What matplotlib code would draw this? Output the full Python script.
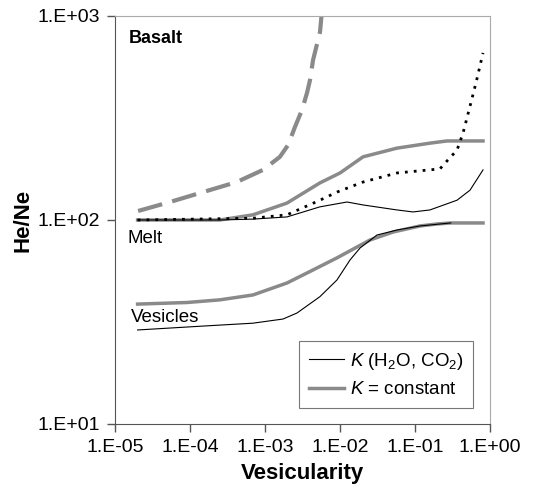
import matplotlib
matplotlib.use('Agg')
import matplotlib.pyplot as plt

plt.rcParams['font.family'] = ['Liberation Sans', 'DejaVu Sans']
plt.rcParams['mathtext.fontset'] = 'custom'
plt.rcParams['mathtext.rm'] = 'Liberation Sans'
plt.rcParams['mathtext.it'] = 'Liberation Sans:italic'

# dashed grey curve
dash_x = [2.03e-5, 5.4e-5, 1.49e-4, 4.2e-4, 9.4e-4, 1.58e-3, 2.03e-3, 2.51e-3, 3.11e-3,
          3.63e-3, 3.98e-3, 4.37e-3, 5.41e-3, 5.66e-3]
dash_y = [110.7, 122.5, 137, 153.5, 176, 204, 233, 286, 346, 420, 485, 608, 835, 1000]

# melt, K = constant
melt_c_x = [2.0e-5, 2.5e-4, 6.9e-4, 1.96e-3, 5.4e-3, 1.0e-2, 2.03e-2, 5.75e-2, 0.158, 0.267, 0.807]
melt_c_y = [100, 100, 106, 121, 152, 170, 204, 225, 238, 244, 244]

# melt, dotted
dot_x = [2.0e-5, 6.9e-4, 1.96e-3, 5.4e-3, 9.1e-3, 2.03e-2, 5.75e-2, 0.215, 0.251, 0.363,
         0.437, 0.525, 0.65, 0.807]
dot_y = [100, 102, 106, 125, 137, 153.5, 170, 178, 190, 220, 267, 346, 470, 659]

# melt, K(H2O, CO2)
melt_k_x = [2.0e-5, 2.5e-4, 6.9e-4, 1.96e-3, 5.4e-3, 1.24e-2, 2.03e-2, 5.75e-2, 9.4e-2, 0.158,
            0.363, 0.541, 0.807]
melt_k_y = [100, 100, 101, 103.5, 116, 122.5, 118.5, 112, 109.5, 112, 125, 140, 176]

# vesicles, K = constant
ves_c_x = [2.0e-5, 9.1e-5, 2.5e-4, 6.9e-4, 1.96e-3, 4.37e-3, 9.1e-3, 2.51e-2, 5.1e-2, 0.117,
           0.197, 0.3, 0.807]
ves_c_y = [38.7, 39.4, 40.6, 42.9, 49.1, 56.9, 65.2, 79.8, 87.3, 93.5, 95.6, 96.7, 96.7]

# vesicles, K(H2O, CO2)
ves_k_x = [2.0e-5, 1.49e-4, 6.9e-4, 1.74e-3, 2.67e-3, 5.4e-3, 9.1e-3, 1.36e-2, 1.85e-2, 3.11e-2,
           5.75e-2, 0.117, 0.3]
ves_k_y = [28.9, 30.2, 31.2, 32.7, 35.0, 42.1, 50.8, 63.7, 72.9, 84.4, 89.3, 93.5, 96.7]

gray = '#8a8a8a'

fig = plt.figure(figsize=(5.36, 4.90), dpi=100)
ax = fig.add_axes([0.2146, 0.1347, 0.6996, 0.8327])

ax.plot(dash_x, dash_y, color=gray, lw=3, dashes=(6, 2.5))
ax.plot(melt_c_x, melt_c_y, color=gray, lw=2.5)
ax.plot(ves_c_x, ves_c_y, color=gray, lw=2.5, label='$K$ = constant')
ax.plot(dot_x, dot_y, color='black', lw=2, dashes=(1, 2.2))
ax.plot(melt_k_x, melt_k_y, color='black', lw=0.8)
ax.plot(ves_k_x, ves_k_y, color='black', lw=0.8, label='$K$ (H$_2$O, CO$_2$)')

ax.set_xscale('log')
ax.set_yscale('log')
ax.set_xlim(1e-5, 1)
ax.set_ylim(10, 1000)
ax.minorticks_off()

xt = [1e-5, 1e-4, 1e-3, 1e-2, 1e-1, 1]
xl = ['1.E-05', '1.E-04', '1.E-03', '1.E-02', '1.E-01', '1.E+00']
yt = [10, 100, 1000]
yl = ['1.E+01', '1.E+02', '1.E+03']
ax.set_xticks(xt)
ax.set_xticklabels(xl)
ax.set_yticks(yt)
ax.set_yticklabels(yl)
ax.tick_params(direction='out', length=6, width=1, color='#555555', labelsize=14, pad=5)

ax.spines['left'].set_color('#555555')
ax.spines['bottom'].set_color('#555555')
ax.spines['top'].set_color('#aaaaaa')
ax.spines['right'].set_color('#aaaaaa')

ax.set_xlabel('Vesicularity', fontsize=16, fontweight='bold', labelpad=5)
ax.set_ylabel('He/Ne', fontsize=16, fontweight='bold', labelpad=3)

ax.text(0.036, 0.946, 'Basalt', transform=ax.transAxes, fontsize=13, fontweight='bold', va='center')
ax.text(0.033, 0.455, 'Melt', transform=ax.transAxes, fontsize=13.5, va='center')
ax.text(0.043, 0.262, 'Vesicles', transform=ax.transAxes, fontsize=13.5, va='center')

h, l = ax.get_legend_handles_labels()
leg = ax.legend(h[::-1], l[::-1], loc='lower right', bbox_to_anchor=(0.955, 0.04),
                fontsize=13.5, frameon=True, fancybox=False, handlelength=1.9,
                handletextpad=0.3, borderpad=0.5, labelspacing=0.5, borderaxespad=0)
leg.get_frame().set_edgecolor('#555555')
leg.get_frame().set_linewidth(0.8)

fig.savefig('out.png', dpi=100)
